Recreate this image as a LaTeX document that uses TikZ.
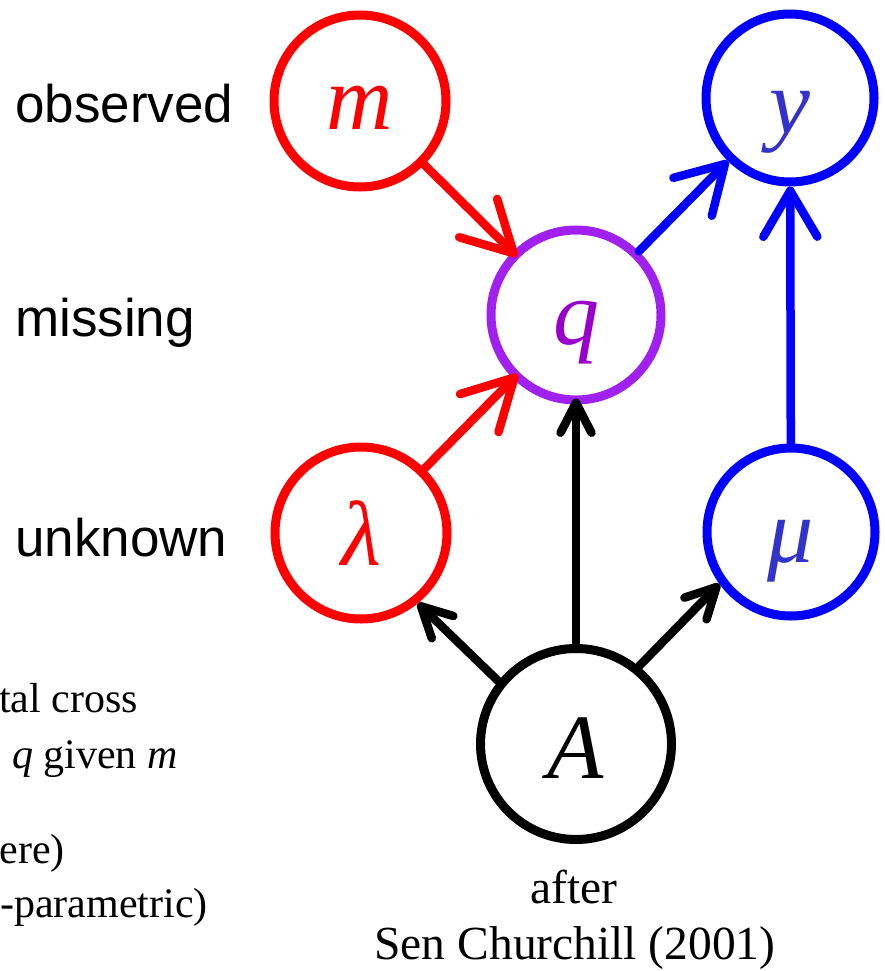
\documentclass[tikz,border=0pt]{standalone}
\usepackage{fontspec}
\setmainfont{Liberation Serif}
\newfontfamily\arialfont{Liberation Sans}
\usetikzlibrary{arrows.meta}
\definecolor{myred}{RGB}{255,0,0}
\definecolor{myblue}{RGB}{0,0,255}
\definecolor{lblblue}{RGB}{51,51,204}
\definecolor{mypurple}{RGB}{160,32,240}
\definecolor{lblpurple}{RGB}{153,0,204}
\tikzset{
  var/.style={circle,draw,line width=9pt,inner sep=0pt,minimum size=#1,
    font=\fontsize{92}{92}\selectfont\itshape,text depth=0pt},
  rowlabel/.style={anchor=base west,inner sep=0pt,font=\arialfont\fontsize{53}{60}\selectfont},
  note/.style={anchor=base east,inner sep=0pt,font=\fontsize{42}{48}\selectfont},
  credit/.style={anchor=base,inner sep=0pt,font=\fontsize{47.5}{54}\selectfont},
  edge/.style={line width=8.5pt,line cap=round,line join=round},
  bigred/.style={edge,draw=myred,-{Straight Barb[length=50pt,width=54pt,round]},shorten >=-6pt},
  bigblue/.style={edge,draw=myblue,-{Straight Barb[length=46pt,width=54pt,round]}},
  blk/.style={edge,draw=black,-{Straight Barb[length=30pt,width=31pt,round]}}
}
\begin{document}
\begin{tikzpicture}[x=1pt,y=-1pt]
\clip (0,0) rectangle (885,971);
\fill[white] (0,0) rectangle (885,971);

% row labels
\node[rowlabel] (obs) at (15,122) {observed};
\node[rowlabel] (mis) at (15,336) {missing};
\node[rowlabel] (unk) at (15,556) {unknown};

% variables
\node[var=172pt,draw=myred,text=myred,text height=58pt] (m) at (360,101) {m};
\node[var=168pt,draw=myblue,text=lblblue,text height=70pt] (y) at (790,98) {y};
\node[var=170pt,draw=mypurple,text=lblpurple,text height=58pt] (q) at (576,315) {q};
\node[var=172pt,draw=myred,text=myred,text height=64pt] (lam) at (361,533) {λ};
\node[var=168pt,draw=myblue,text=lblblue,text height=60pt] (mu) at (791,532) {μ};
\node[var=191pt,draw=black,text=black,text height=68pt] (A) at (576,744) {A};

% connectors
\draw[bigred] (m) -- (q);
\draw[bigred] (lam) -- (q);
\draw[bigblue] (q) -- (y);
\draw[bigblue] (mu) -- (y);
\draw[blk] (A.141.7) -- (lam.-51);
\draw[blk,shorten >=-6pt] (A) -- (q);
\draw[blk] (A.51.7) -- (mu.216);

% notes (cut off at the left edge)
\node[note] (n1) at (138,712) {tal cross};
\node[note] (n2) at (178,768) {\textit{q} given \textit{m}};
\node[note] (n3) at (65,863) {ere)};
\node[note] (n4) at (208,917) {-parametric)};

% credit
\node[credit] (c1) at (574,903) {after};
\node[credit] (c2) at (575,959) {Sen Churchill (2001)};
\end{tikzpicture}
\end{document}
